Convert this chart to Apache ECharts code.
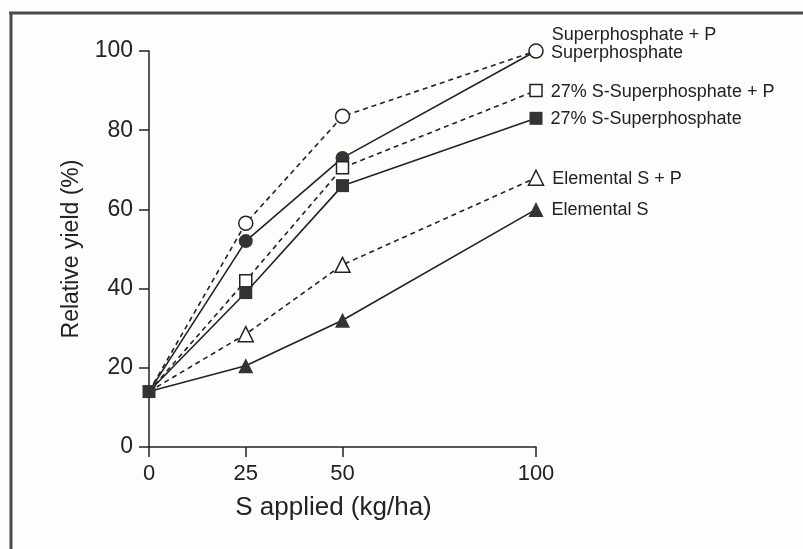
<!DOCTYPE html>
<html>
<head>
<meta charset="utf-8">
<title>Relative yield vs S applied</title>
<script src="https://cdn.jsdelivr.net/npm/echarts@6/dist/echarts.min.js"></script>
<style>
  html, body { margin: 0; padding: 0; background: #fdfdfc; }
  #chart { width: 803px; height: 549px; }
</style>
</head>
<body>
<div id="chart"></div>
<script>
// Sulphur rates (kg/ha) and relative yields (%) for each fertiliser treatment
const sApplied = [0, 25, 50, 100];
const xTickValues = [0, 25, 50, 100];
const superphosphateP = [14, 56.5, 83.5, 100];
const superphosphate = [14, 52, 73, 100];
const s27SuperphosphateP = [14, 42, 70.5, 90];
const s27Superphosphate = [14, 39, 66, 83];
const elementalSP = [14, 28.5, 46, 68];
const elementalS = [14, 20.5, 32, 60];

const ink = '#222';
const font = 'Liberation Sans, Arial, sans-serif';

function makeSeries(name, values, opts) {
  return {
    name: name,
    type: 'line',
    z: opts.z,
    data: values.map(function (v, i) {
      const point = { value: [sApplied[i], v] };
      if (i === 0 && !opts.showFirst) point.symbol = 'none';
      if (i === values.length - 1) {
        point.label = {
          show: true,
          position: 'right',
          distance: 8,
          offset: opts.labelOffset || [0, 1],
          formatter: name,
          color: ink,
          fontFamily: font,
          fontSize: 18
        };
      }
      return point;
    }),
    symbol: opts.symbol,
    symbolSize: opts.size,
    showAllSymbol: true,
    lineStyle: { color: ink, width: 1.6, type: opts.dashed ? [5, 4] : 'solid' },
    itemStyle: {
      color: opts.filled ? '#333333' : '#ffffff',
      borderColor: ink,
      borderWidth: opts.filled ? 0 : 1.5
    },
    emphasis: { disabled: true },
    animation: false
  };
}

const chart = echarts.init(document.getElementById('chart'));
chart.setOption({
  backgroundColor: '#fdfdfc',
  animation: false,
  grid: { left: 149, right: 267, top: 51, bottom: 102 },
  graphic: [
    { type: 'line', shape: { x1: 9, y1: 13, x2: 803, y2: 13 }, style: { stroke: '#4a4a4a', lineWidth: 3 } },
    { type: 'line', shape: { x1: 11, y1: 12, x2: 11, y2: 549 }, style: { stroke: '#4a4a4a', lineWidth: 3 } }
  ],
  xAxis: {
    type: 'value',
    min: 0,
    max: 100,
    name: 'S applied (kg/ha)',
    nameLocation: 'middle',
    nameGap: 48,
    nameTextStyle: { color: ink, fontFamily: font, fontSize: 26, padding: [0, 18, 0, 0] },
    splitLine: { show: false },
    axisLine: { show: true, lineStyle: { color: ink, width: 1.5 } },
    axisTick: { show: true, length: 10, customValues: xTickValues, lineStyle: { color: ink, width: 1.5 } },
    axisLabel: { customValues: xTickValues, color: ink, fontFamily: font, fontSize: 22, margin: 16 }
  },
  yAxis: {
    type: 'value',
    min: 0,
    max: 100,
    interval: 20,
    name: 'Relative yield (%)',
    nameLocation: 'middle',
    nameGap: 66,
    nameTextStyle: { color: ink, fontFamily: font, fontSize: 23 },
    splitLine: { show: false },
    axisLine: { show: true, lineStyle: { color: ink, width: 1.5 } },
    axisTick: { show: true, length: 10, lineStyle: { color: ink, width: 1.5 } },
    axisLabel: { color: ink, fontFamily: font, fontSize: 23, margin: 16 }
  },
  series: [
    makeSeries('Elemental S', elementalS, { symbol: 'triangle', size: 15, filled: true, z: 2 }),
    makeSeries('Elemental S + P', elementalSP, { symbol: 'triangle', size: 15, filled: false, dashed: true, z: 3 }),
    makeSeries('Superphosphate', superphosphate, { symbol: 'circle', size: 14, filled: true, z: 2, labelOffset: [0, 2] }),
    makeSeries('Superphosphate + P', superphosphateP, { symbol: 'circle', size: 14, filled: false, dashed: true, z: 3, labelOffset: [0, -16] }),
    makeSeries('27% S-Superphosphate + P', s27SuperphosphateP, { symbol: 'rect', size: 12, filled: false, dashed: true, z: 3 }),
    makeSeries('27% S-Superphosphate', s27Superphosphate, { symbol: 'rect', size: 13, filled: true, z: 4, showFirst: true })
  ]
});
</script>
</body>
</html>
